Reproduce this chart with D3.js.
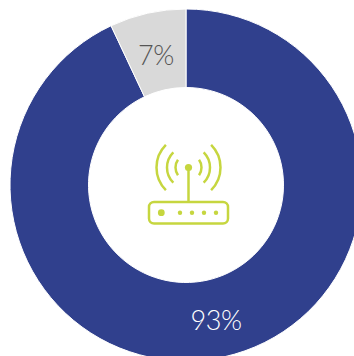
<!DOCTYPE html>
<html>
<head>
<meta charset="utf-8">
<script src="https://cdn.jsdelivr.net/npm/d3@7/dist/d3.min.js"></script>
<style>
html,body{margin:0;padding:0;background:#fff;overflow:hidden}
svg{display:block}
text{font-family:Lato,"Open Sans",sans-serif;font-weight:300}
</style>
</head>
<body>
<svg id="chart" width="354" height="356"></svg>
<script>
// Share of connected households, drawn clockwise from twelve o'clock
const categories = ["Connected", "Not connected"];
const shares = [93, 7];
const labels = ["93%", "7%"];
const sliceColors = ["#30408d", "#d9d9d9"];
const labelColors = ["#ffffff", "#555555"];

const svg = d3.select("#chart");
const cx = 186, cy = 185, outerR = 176, innerR = 97.5;

const pie = d3.pie().sort(null).value((d, i) => shares[i]);
const arc = d3.arc().innerRadius(innerR).outerRadius(outerR);
const slices = pie(categories);

const ring = svg.append("g").attr("transform", `translate(${cx},${cy})`);
ring.selectAll("path").data(slices).join("path")
  .attr("d", arc)
  .attr("fill", (d, i) => sliceColors[i])
  .attr("stroke", "#fff")
  .attr("stroke-width", 1);

// Value labels sit inside the ring; the large slice's label is pulled down to the bottom
const labelAnchors = [[30, 134], [-30, -131]];
ring.selectAll("text").data(slices).join("text")
  .attr("x", (d, i) => labelAnchors[i][0])
  .attr("y", (d, i) => labelAnchors[i][1])
  .attr("text-anchor", "middle")
  .attr("dominant-baseline", "central")
  .attr("font-size", 27)
  .attr("letter-spacing", -0.4)
  .attr("fill", (d, i) => labelColors[i])
  .text((d, i) => labels[i]);

// Router icon in the hole of the ring
const iconColor = "#c6d63f";
const icon = svg.append("g").attr("transform", "translate(188.5,167.5)")
  .attr("fill", "none").attr("stroke", iconColor).attr("stroke-width", 2.5).attr("stroke-linecap", "round");
const wave = d3.arc().innerRadius(d => d.r).outerRadius(d => d.r);
[13, 21.5, 32].forEach(r => {
  const spread = r === 13 ? Math.PI * 0.2 : Math.PI * 0.25;
  icon.append("path").attr("d", wave({r, startAngle: -Math.PI / 2 - spread, endAngle: -Math.PI / 2 + spread}));
  icon.append("path").attr("d", wave({r, startAngle: Math.PI / 2 - spread, endAngle: Math.PI / 2 + spread}));
});
icon.append("circle").attr("r", 3.6).attr("fill", iconColor).attr("stroke", "none");
icon.append("line").attr("x1", 0).attr("x2", 0).attr("y1", 2).attr("y2", 34);
icon.append("rect").attr("x", -39.5).attr("y", 34.5).attr("width", 79).attr("height", 21.5).attr("rx", 5);
icon.append("circle").attr("cx", -27.2).attr("cy", 45.2).attr("r", 3.4).attr("fill", iconColor).attr("stroke", "none");
[-8.5, 3.5, 15.5, 27.5].forEach(x => {
  icon.append("circle").attr("cx", x).attr("cy", 45.2).attr("r", 2.2).attr("fill", iconColor).attr("stroke", "none");
});
</script>
</body>
</html>
